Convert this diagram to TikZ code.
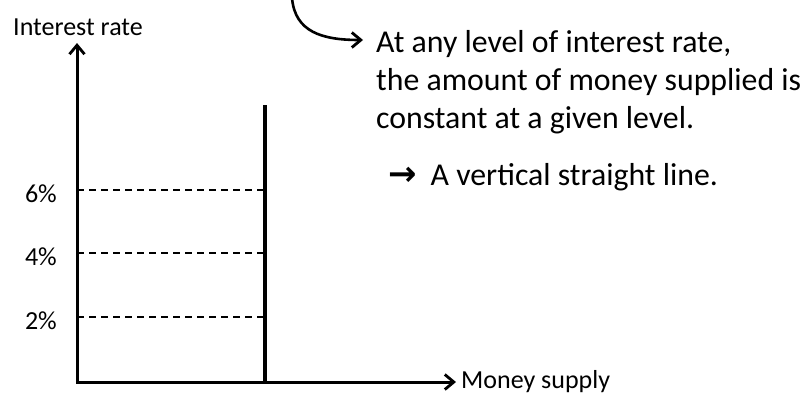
\documentclass[tikz,border=0pt]{standalone}
\usepackage{fontspec}
\setmainfont{Carlito}
\newfontfamily\symfont{DejaVu Sans}
\usetikzlibrary{arrows.meta}
\begin{document}
\begin{tikzpicture}[x=1pt,y=-1pt,
  axis/.style={line width=3pt,line cap=rect,-{Straight Barb[length=9pt,width=15pt,line width=2.8pt]}},
  supplyline/.style={line width=4pt},
  guide/.style={line width=1.6pt,dash pattern=on 7pt off 5pt},
  callout/.style={line width=2.6pt,-{Straight Barb[length=9pt,width=15pt,line width=2.8pt]}},
  axlab/.style={inner sep=0pt,font=\fontsize{26}{31}\selectfont},
  body/.style={inner sep=0pt,font=\fontsize{31.8}{38}\selectfont}
]
\useasboundingbox (0,0) rectangle (809,394);
% axes
\coordinate (O) at (77,382);
\coordinate (ytip) at (77,43);
\coordinate (xtip) at (456,382);
\draw[axis] (O) -- (ytip);
\draw[axis] (O) -- (xtip);
\node[axlab,anchor=base] (ylab) at (78,35) {Interest rate};
\node[axlab,anchor=west] (xlab) at (461,382) {Money supply};
% supply line
\coordinate (stop) at (265,105);
\coordinate (sbot) at (265,382);
\draw[supplyline] (stop) -- (sbot);
% guides
\coordinate (g6a) at (77,190); \coordinate (g6b) at (265,190);
\coordinate (g4a) at (77,253); \coordinate (g4b) at (265,253);
\coordinate (g2a) at (77,317); \coordinate (g2b) at (265,317);
\draw[guide] (g6a) -- (g6b);
\draw[guide] (g4a) -- (g4b);
\draw[guide] (g2a) -- (g2b);
\node[axlab,anchor=base east] (l6) at (57,202) {6\%};
\node[axlab,anchor=base east] (l4) at (57,265) {4\%};
\node[axlab,anchor=base east] (l2) at (57,329) {2\%};
% text
\node[body,anchor=base west] (t1) at (376,52) {At any level of interest rate,};
\node[body,anchor=base west] (t2) at (376,90) {the amount of money supplied is};
\node[body,anchor=base west] (t3) at (376,128) {constant at a given level.};
\node[body,anchor=base west] (t4) at (388,185) {{\symfont\bfseries\fontsize{34}{38}\selectfont →}\hspace{14pt}A vertical straight line.};
% callout curve
\coordinate (cstart) at (292,-2);
\coordinate (ctip) at (363,40);
\draw[callout] (cstart) .. controls (295,32) and (322,40) .. (ctip);
\end{tikzpicture}
\end{document}
